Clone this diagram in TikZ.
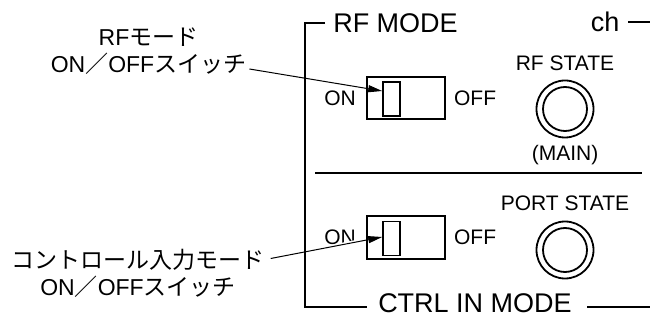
\documentclass[tikz,border=0pt]{standalone}
\usepackage{fontspec}
\setmainfont{Liberation Sans}
\newfontfamily\cjk{Noto Sans CJK JP}
\usetikzlibrary{positioning, arrows.meta}

\begin{document}
\begin{tikzpicture}[
    x=1pt, y=-1pt,
    % text styles of the panel
    big/.style={font=\fontsize{27}{30}\selectfont, inner sep=0pt},
    small/.style={font=\fontsize{21}{24}\selectfont, inner sep=0pt},
    callout/.style={font=\fontsize{23}{27.5}\selectfont, align=center, inner sep=0pt},
    frame/.style={line width=2.6pt},
    switchbox/.style={rectangle, draw, line width=1.8pt, minimum width=78pt, minimum height=42pt, inner sep=0pt},
    lever/.style={rectangle, draw, line width=1.6pt, minimum width=17pt, minimum height=34pt, inner sep=0pt},
    lamp/.style={circle, draw, line width=1.8pt, inner sep=0pt},
    leader/.style={-{Triangle[length=14pt,width=7pt]}, line width=1pt},
    halo/.style={preaction={draw=white, line width=4pt, -, shorten <=55pt, shorten >=20pt}}
]
    \useasboundingbox (0,0) rectangle (650,320);

    % 1. Callout labels on the left
    \node[callout] (rflabel) at (148.5,51) {RF{\cjk モード}\\ON{\cjk ／}OFF{\cjk スイッチ}};
    \node[callout] (ctrllabel) at (138,273.5) {{\cjk コントロール入力モード}\\ON{\cjk ／}OFF{\cjk スイッチ}};

    % 2. Panel titles and frame
    \node[big] (rfmode) at (395.5,23) {RF MODE};
    \node[big] (ch) at (605,22) {ch};
    \node[big] (ctrlmode) at (475,303) {CTRL IN MODE};

    \draw[frame] (325,23) -- (305,23) -- (305,307) -- (367,307);
    \draw[frame] (587,307) -- (650,307);
    \draw[frame] (628,22) -- (650,22);
    \draw[line width=2.2pt] (315,173) -- (642,173);

    % 3. Switches (upper = RF, lower = CTRL IN)
    \node[switchbox] (sw1) at (406,98) {};
    \node[lever] (lever1) at (391.5,99) {};
    \node[small] (on1) [left=10pt of sw1] {ON};
    \node[small] (off1) [right=8pt of sw1] {OFF};

    \node[switchbox, minimum height=43pt] (sw2) at (406,237.5) {};
    \node[lever] (lever2) at (391.5,238.5) {};
    \node[small] (on2) [left=10pt of sw2] {ON};
    \node[small] (off2) [right=8pt of sw2] {OFF};

    % 4. State lamps
    \node[lamp, minimum size=57pt] (lamp1) at (565,109) {};
    \node[lamp, minimum size=44pt] at (lamp1.center) {};
    \node[small] (rfstate) [above=9pt of lamp1] {RF STATE};
    \node[small] (main) [below=7pt of lamp1] {(MAIN)};

    \node[lamp, minimum size=57pt] (lamp2) at (565,250) {};
    \node[lamp, minimum size=44pt] at (lamp2.center) {};
    \node[small] (portstate) [above=10pt of lamp2] {PORT STATE};

    % 5. Leader arrows
    \draw[leader] ([xshift=3pt,yshift=-18pt]rflabel.east) -- ([yshift=8pt]lever1.west);
    \draw[leader, halo] ([xshift=6pt,yshift=15pt]ctrllabel.east) -- ([yshift=1.5pt]lever2.west);

\end{tikzpicture}
\end{document}
